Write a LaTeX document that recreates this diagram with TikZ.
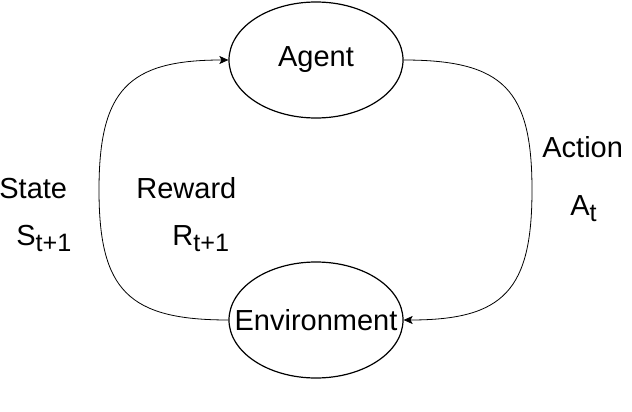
\documentclass[tikz,border=0pt]{standalone}
\usepackage{fontspec}
\setmainfont{Liberation Sans}
\usetikzlibrary{shapes.geometric, positioning, arrows.meta}
\newcommand{\subtxt}[1]{\raisebox{-3pt}{\fontsize{12.6}{14}\selectfont #1}}
\tikzset{
    ->, % makes the edges directed
    >={Stealth[length=4.5pt, width=4pt, inset=1pt]}, % small filled arrow heads
    x=0.5pt, y=-0.5pt, % one unit is one pixel of the reference
    every node/.style={font=\fontsize{14.5}{17}\selectfont},
    box/.style={draw, ellipse, line width=0.6pt, inner sep=0pt,
        minimum width=87pt, minimum height=58pt}, % the two ellipses
    lab/.style={anchor=base west, inner sep=0pt}, % free labels
    node distance=130pt, % centre to centre of the two ellipses
    line width=0.6pt,
}
\begin{document}
\begin{tikzpicture}
    \useasboundingbox (0,0) rectangle (632,412);
    \node[box] (agent) at (316,60) {\makebox[0pt]{Agent}};
    \node[box, below of=agent] (env) {\makebox[0pt]{Environment}};
    \coordinate (lmid) at (99,190);
    \coordinate (rmid) at (532,190);
    \draw (env.west) to[out=180, in=-90, looseness=1.4] (lmid)
        to[out=90, in=180, looseness=1.4] (agent.west);
    \draw (agent.east) to[out=0, in=90, looseness=1.4] (rmid)
        to[out=-90, in=0, looseness=1.4] (env.east);
    \node[lab] (state) at (-1,198) {State};
    \node[lab] (s) at (16,245) {S\subtxt{t+1}};
    \node[lab] (reward) at (136,198) {Reward};
    \node[lab] (r) at (172,245) {R\subtxt{t+1}};
    \node[lab] (action) at (542,157) {Action};
    \node[lab] (a) at (570,215) {A\subtxt{t}};
\end{tikzpicture}
\end{document}
